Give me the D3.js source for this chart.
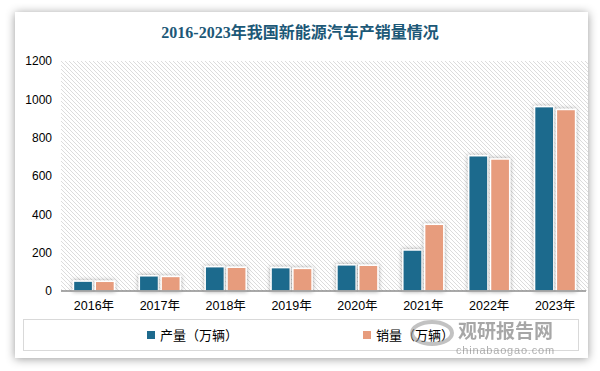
<html>
<head>
<script src="https://d3js.org/d3.v7.min.js"></script>
<style>
    body { margin: 0; background: #ffffff; }
    svg text { font-family: "Liberation Sans", Arial, "Noto Sans CJK SC", sans-serif; }
</style>
</head>
<body>
<div id="chart"></div>
<script>
    // data (万辆)
    var years = ["2016年", "2017年", "2018年", "2019年", "2020年", "2021年", "2022年", "2023年"];
    var production = [51.7, 79.4, 127, 122, 136.6, 214, 705.8, 962];
    var sales = [50.7, 76, 124, 118, 134.5, 348, 688.7, 947];
    var yTicks = [0, 200, 400, 600, 800, 1000, 1200];
    var seriesNames = ["产量（万辆）", "销量（万辆）"];
    var colors = ["#1e6a8d", "#e79c7d"];

    var width = 600, height = 371;
    var margin = { top: 61, right: 28, bottom: 80, left: 61 };

    var svg = d3.select("#chart").append("svg")
        .attr("width", width).attr("height", height);

    var defs = svg.append("defs");
    var pat = defs.append("pattern")
        .attr("id", "hatch").attr("patternUnits", "userSpaceOnUse")
        .attr("width", 4).attr("height", 4);
    pat.append("rect").attr("width", 4).attr("height", 4).attr("fill", "#ffffff");
    pat.append("path")
        .attr("d", "M-1,-1 L5,5 M-1,3 L1,5 M3,-1 L5,1")
        .attr("stroke", "#dcdcdc").attr("stroke-width", 1);

    var shadow = defs.append("filter").attr("id", "shadow")
        .attr("x", "-50%").attr("y", "-50%").attr("width", "200%").attr("height", "200%");
    shadow.append("feDropShadow").attr("dx", 0).attr("dy", 0)
        .attr("stdDeviation", 2.2).attr("flood-color", "#000").attr("flood-opacity", 0.35);

    var card = defs.append("filter").attr("id", "card")
        .attr("x", "-10%").attr("y", "-10%").attr("width", "120%").attr("height", "120%");
    card.append("feDropShadow").attr("dx", 0).attr("dy", 1)
        .attr("stdDeviation", 5).attr("flood-color", "#000").attr("flood-opacity", 0.4);

    // card
    svg.append("rect").attr("x", 15).attr("y", 12).attr("width", 573).attr("height", 346)
        .attr("fill", "#ffffff").attr("filter", "url(#card)");

    // title
    svg.append("text")
        .attr("x", 300).attr("y", 38)
        .attr("text-anchor", "middle")
        .style("font-family", "'Liberation Serif', 'DejaVu Serif', 'Noto Sans CJK SC', serif")
        .style("font-size", "16px").style("font-weight", "bold")
        .attr("fill", "#1c5877")
        .text("2016-2023年我国新能源汽车产销量情况");

    var x = d3.scaleBand().domain(years)
        .range([margin.left, width - margin.right + 16]);
    var y = d3.scaleLinear().domain([0, 1200])
        .range([height - margin.bottom, margin.top]);
    var xSub = d3.scaleBand().domain([0, 1])
        .range([0, 41]).paddingInner(0.12);

    // plot background
    svg.append("rect")
        .attr("x", margin.left).attr("y", y(1200))
        .attr("width", x.range()[1] - margin.left)
        .attr("height", y(0) - y(1200))
        .attr("fill", "url(#hatch)");

    // y axis labels
    var yAxis = svg.append("g")
        .attr("transform", "translate(" + (margin.left - 9) + ",0)")
        .call(d3.axisLeft(y).tickValues(yTicks).tickFormat(d3.format("d")).tickSize(0).tickPadding(0));
    yAxis.select(".domain").remove();
    yAxis.selectAll("text").style("font-size", "12px").attr("fill", "#000");

    // bars
    var data = years.map(function (d, i) { return { year: d, values: [production[i], sales[i]] }; });
    var groups = svg.append("g").selectAll("g").data(data).enter().append("g")
        .attr("transform", function (d) {
            return "translate(" + (x(d.year) + x.bandwidth() / 2 - 20.5) + ",0)";
        });
    groups.selectAll("rect").data(function (d) { return d.values; }).enter().append("rect")
        .attr("x", function (d, i) { return xSub(i); })
        .attr("y", function (d) { return y(d); })
        .attr("width", xSub.bandwidth())
        .attr("height", function (d) { return y(0) - y(d); })
        .attr("fill", function (d, i) { return colors[i]; })
        .attr("stroke", "#ffffff").attr("stroke-width", 1.5)
        .attr("filter", "url(#shadow)");

    // x axis
    var xAxis = svg.append("g")
        .attr("transform", "translate(0," + y(0) + ")")
        .call(d3.axisBottom(x).tickSize(0).tickPadding(10));
    xAxis.select(".domain").attr("stroke", "#8c8c8c").attr("stroke-width", 1.5)
        .attr("d", "M" + margin.left + ",0H" + (x.range()[1] - 2));
    xAxis.selectAll("text").style("font-size", "12.5px").attr("fill", "#000");

    // legend
    svg.append("rect").attr("x", 23.5).attr("y", 319.5).attr("width", 555).attr("height", 31)
        .attr("fill", "none").attr("stroke", "#d9d9d9").attr("stroke-width", 1);
    var legendX = [147, 363];
    var legend = svg.append("g").selectAll("g").data(seriesNames).enter().append("g")
        .attr("transform", function (d, i) { return "translate(" + legendX[i] + ",331)"; });
    legend.append("rect").attr("width", 8).attr("height", 8)
        .attr("fill", function (d, i) { return colors[i]; });
    legend.append("text").attr("x", 13).attr("y", 8.5)
        .style("font-size", "13px").attr("fill", "#000")
        .text(function (d) { return d; });

    // watermark
    var wm = svg.append("g").attr("opacity", 0.6);
    wm.append("ellipse").attr("cx", 432).attr("cy", 333).attr("rx", 20).attr("ry", 11)
        .attr("fill", "none").attr("stroke", "#9a9a9a").attr("stroke-width", 4);
    wm.append("text").attr("x", 458).attr("y", 338)
        .style("font-family", "'Noto Sans CJK SC', sans-serif")
        .style("font-size", "19px").style("font-weight", "bold")
        .attr("fill", "#6e6e6e").text("观研报告网");
    wm.append("text").attr("x", 456).attr("y", 354)
        .style("font-size", "11px").style("letter-spacing", "0.8px")
        .attr("fill", "#7a7a7a").text("chinabaogao.com");
</script>
</body>
</html>
